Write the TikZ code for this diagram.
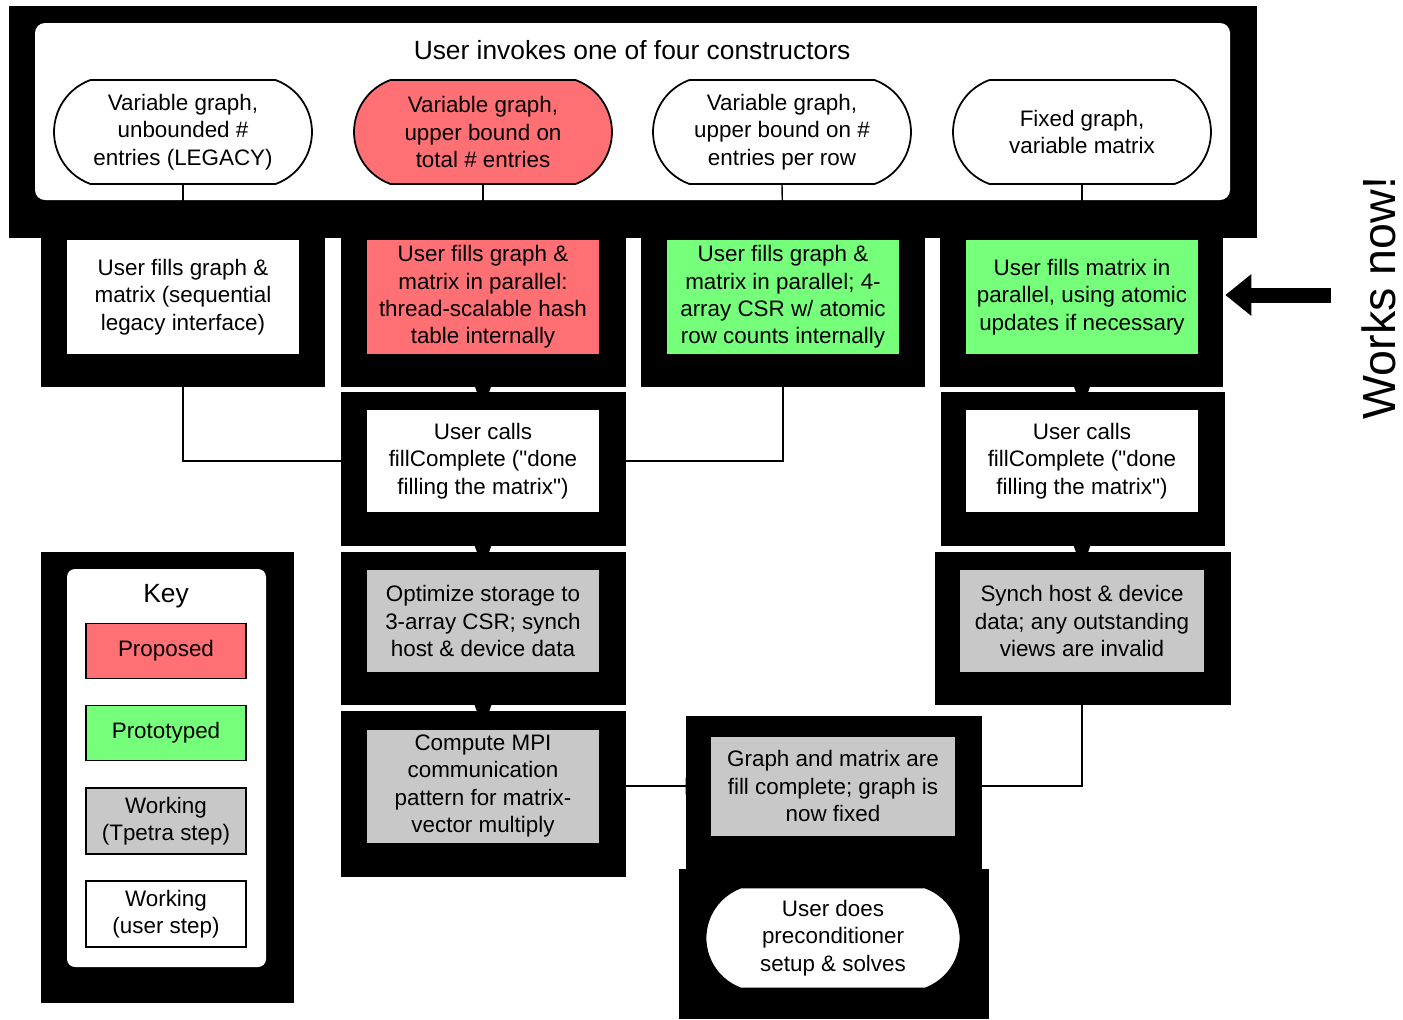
\documentclass[tikz,border=0pt]{standalone}
\usepackage{fontspec}
\setmainfont{Liberation Sans}
\usepackage{xcolor}
\definecolor{propred}{RGB}{255,112,117}
\definecolor{protogreen}{RGB}{118,255,122}
\definecolor{tpgray}{RGB}{200,200,200}
\usetikzlibrary{arrows.meta,positioning,shapes.misc}
\newcommand{\stepfont}{\fontsize{12.75}{15.5}\selectfont}
\newcommand{\headfont}{\fontsize{15}{18}\selectfont}

\begin{document}
\begin{tikzpicture}[x=0.02cm,y=-0.02cm,
  stepbox/.style={rectangle,inner sep=0pt,minimum width=4.64cm,minimum height=2.04cm,
    align=center,font=\stepfont},
  pillbox/.style={rounded rectangle,rounded rectangle arc length=140,draw,line width=1pt,
    fill=white,inner sep=0pt,minimum width=5.16cm,minimum height=2.08cm,align=center,font=\stepfont},
  keybox/.style={draw,line width=1pt,inner sep=0pt,minimum width=3.2cm,minimum height=1.1cm,
    align=center,font=\stepfont},
  shade/.style={fill=black},
  steplink/.style={line width=0.8pt,-{Triangle[length=0.5cm,width=0.34cm]}}
]
  \useasboundingbox (0,0) rectangle (1403,1019);
  % Constructors
  \fill[shade] (9,6) rectangle (1257,238);
  \fill[white,rounded corners=0.2cm] (35,23) rectangle (1230,200);
  \node[font=\headfont] (title) at (632,50) {User invokes one of four constructors};
  \node[pillbox] (ctor1) at (183,132) {Variable graph,\\unbounded \#\\entries (LEGACY)};
  \node[pillbox,fill=propred] (ctor2) at (483,132) {Variable graph,\\upper bound on\\total \# entries};
  \node[pillbox] (ctor3) at (782,132) {Variable graph,\\upper bound on \#\\entries per row};
  \node[pillbox] (ctor4) at (1082,132) {Fixed graph,\\variable matrix};
  % Black frames
  \fill[shade] (41,222) rectangle (325,387);
  \fill[shade] (341,222) rectangle (626,387);
  \fill[shade] (641,222) rectangle (925,387);
  \fill[shade] (940,222) rectangle (1223,387);
  \fill[shade] (341,392) rectangle (626,546);
  \fill[shade] (941,392) rectangle (1225,546);
  \fill[shade] (341,552) rectangle (626,705);
  \fill[shade] (935,552) rectangle (1231,705);
  \fill[shade] (341,711) rectangle (626,877);
  \fill[shade] (686,716) rectangle (982,869);
  \fill[shade] (679,869) rectangle (989,1019);
  \fill[shade] (41,552) rectangle (294,1003);
  % Fill steps
  \node[stepbox,fill=white,minimum height=2.28cm] (fill1) at (183,297)
    {User fills graph \&\\matrix (sequential\\legacy interface)};
  \node[stepbox,fill=propred,minimum height=2.28cm] (fill2) at (483,297)
    {User fills graph \&\\matrix in parallel:\\thread-scalable hash\\table internally};
  \node[stepbox,fill=protogreen,minimum height=2.28cm] (fill3) at (783,297)
    {User fills graph \&\\matrix in parallel; 4-\\array CSR w/ atomic\\row counts internally};
  \node[stepbox,fill=protogreen,minimum height=2.28cm] (fill4) at (1082,297)
    {User fills matrix in\\parallel, using atomic\\updates if necessary};
  % fillComplete
  \node[stepbox,fill=white] (call1) at (483,461)
    {User calls\\fillComplete (\textquotedbl done\\filling the matrix\textquotedbl)};
  \node[stepbox,fill=white] (call2) at (1082,461)
    {User calls\\fillComplete (\textquotedbl done\\filling the matrix\textquotedbl)};
  \node[stepbox,fill=tpgray] (opt) at (483,621) {Optimize storage to\\3-array CSR; synch\\host \& device data};
  \node[stepbox,fill=tpgray,minimum width=4.88cm] (synch) at (1082,621)
    {Synch host \& device\\data; any outstanding\\views are invalid};
  \node[stepbox,fill=tpgray,minimum height=2.26cm] (mpi) at (483,786)
    {Compute MPI\\communication\\pattern for matrix-\\vector multiply};
  \node[stepbox,fill=tpgray,minimum width=4.88cm,minimum height=1.98cm] (done) at (833,786)
    {Graph and matrix are\\fill complete; graph is\\now fixed};
  \node[pillbox,draw=black,minimum width=5.1cm,minimum height=2.02cm] (solve) at (833,938)
    {User does\\preconditioner\\setup \& solves};
  % Connectors
  \draw[steplink] (ctor1.south) -- (fill1.north);
  \draw[steplink] (ctor2.south) -- (fill2.north);
  \draw[steplink] (ctor3.south) -- (fill3.north);
  \draw[steplink] (ctor4.south) -- (fill4.north);
  \draw[steplink] (fill1.south) |- (call1.west);
  \draw[steplink] (fill2.south) -- (call1.north);
  \draw[steplink] (fill3.south) |- (call1.east);
  \draw[steplink] (fill4.south) -- (call2.north);
  \draw[steplink] (call1.south) -- (opt.north);
  \draw[steplink] (call2.south) -- (synch.north);
  \draw[steplink] (opt.south) -- (mpi.north);
  \draw[steplink] (mpi.east) -- (done.west);
  \draw[steplink] (synch.south) |- (done.east);
  \draw[steplink] (done.south) -- (solve.north);
  % Key
  \fill[white,rounded corners=0.16cm] (67,569) rectangle (266,967);
  \node[font=\headfont] (keytitle) at (166,596) {Key};
  \node[keybox,fill=propred] (keyprop) at (166,651) {Proposed};
  \node[keybox,fill=protogreen] (keyproto) at (166,733) {Prototyped};
  \node[keybox,fill=tpgray,minimum height=1.32cm] (keytp) at (166,821) {Working\\(Tpetra step)};
  \node[keybox,fill=white,minimum height=1.32cm] (keyuser) at (166,914) {Working\\(user step)};
  % Works now
  \node[rotate=90,font=\fontsize{26.5}{30}\selectfont] (works) at (1379,298) {Works now!};
  \coordinate (worksfrom) at (1331,295);
  \draw[line width=0.3cm,-{Triangle[length=0.52cm,width=0.8cm]},shorten >=0.54cm]
    (worksfrom) -- (fill4.east |- worksfrom);
\end{tikzpicture}
\end{document}
